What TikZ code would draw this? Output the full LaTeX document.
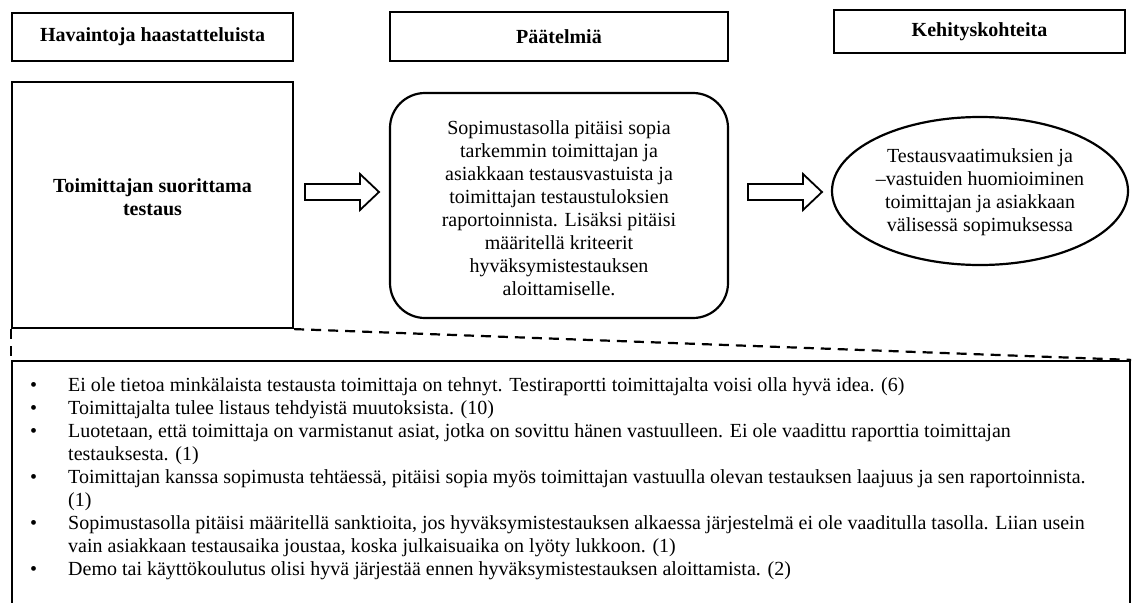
\documentclass[tikz,border=0pt]{standalone}
\usepackage{fontspec}
\setmainfont{Liberation Serif}
\usepackage{array}
\usetikzlibrary{shapes.geometric}
\begin{document}
\begin{tikzpicture}[x=1pt,y=-1pt,
  box/.style={draw, line width=2.2pt, inner sep=0pt},
  txt/.style={font=\fontsize{20}{23}\selectfont, align=center, inner sep=0pt},
  boldtxt/.style={font=\bfseries\fontsize{20}{23}\selectfont, align=center, inner sep=0pt},
  fatarrow/.style={draw, line width=1.8pt, fill=white, line join=miter},
  dashline/.style={line width=2.2pt, dash pattern=on 10pt off 7pt}]
\useasboundingbox[fill=white] (0,0) rectangle (1134,602);

% headers
\node[box, boldtxt, minimum width=281pt, minimum height=48pt] (h1) at (152.5,37) {Havaintoja haastatteluista};
\node[box, boldtxt, minimum width=338pt, minimum height=49pt] (h2) at (559,36.5) {Päätelmiä};
\node[box, boldtxt, minimum width=291pt, minimum height=43pt] (h3) at (979.5,31.5) {Kehityskohteita};

% left box
\node[box, minimum width=281pt, minimum height=246pt] (lb) at (152.5,205) {};
\node[boldtxt] (lbt) at (152.5,197) {Toimittajan suorittama\\testaus};

% rounded box
\node[box, rounded corners=35pt, minimum width=338pt, minimum height=225pt] (rb) at (559,205.5) {};
\node[txt] (rbt) at (559,208) {Sopimustasolla pitäisi sopia\\
tarkemmin toimittajan ja\\
asiakkaan testausvastuista ja\\
toimittajan testaustuloksien\\
raportoinnista. Lisäksi pitäisi\\
määritellä kriteerit\\
hyväksymistestauksen\\
aloittamiselle.};

% ellipse
\node[box, ellipse, minimum width=296pt, minimum height=148pt] (el) at (980,191) {};
\node[txt] (elt) at (980,192) {Testausvaatimuksien ja\\
–vastuiden huomioiminen\\
toimittajan ja asiakkaan\\
välisessä sopimuksessa};

% block arrows
\coordinate (a1) at (305,192);
\coordinate (a2) at (748,192);
\foreach \c in {a1,a2}{
  \draw[fatarrow] (\c) ++(0,-8) -- ++(55,0) -- ++(0,-10) -- ++(19,18) -- ++(-19,18) -- ++(0,-10) -- ++(-55,0) -- cycle;
}

% list box
\node[box, minimum width=1118pt, minimum height=279pt] (lst) at (571,500.5) {};
\draw[dashline] (lb.south east) -- (lst.north east);
\draw[dashline] (lb.south west) -- (lst.north west);

\node[font=\fontsize{20}{23}\selectfont, inner sep=0pt, anchor=base west] (items) at (12,391) {%
\begin{tabular}[t]{@{\hspace{18pt}}l@{\hspace{31pt}}p{1050pt}@{}}
\textbullet & Ei ole tietoa minkälaista testausta toimittaja on tehnyt. Testiraportti toimittajalta voisi olla hyvä idea. (6)\\
\textbullet & Toimittajalta tulee listaus tehdyistä muutoksista. (10)\\
\textbullet & Luotetaan, että toimittaja on varmistanut asiat, jotka on sovittu hänen vastuulleen. Ei ole vaadittu raporttia toimittajan\newline testauksesta. (1)\\
\textbullet & Toimittajan kanssa sopimusta tehtäessä, pitäisi sopia myös toimittajan vastuulla olevan testauksen laajuus ja sen raportoinnista.\newline (1)\\
\textbullet & Sopimustasolla pitäisi määritellä sanktioita, jos hyväksymistestauksen alkaessa järjestelmä ei ole vaaditulla tasolla. Liian usein\newline vain asiakkaan testausaika joustaa, koska julkaisuaika on lyöty lukkoon. (1)\\
\textbullet & Demo tai käyttökoulutus olisi hyvä järjestää ennen hyväksymistestauksen aloittamista. (2)\\
\end{tabular}};
\end{tikzpicture}
\end{document}
